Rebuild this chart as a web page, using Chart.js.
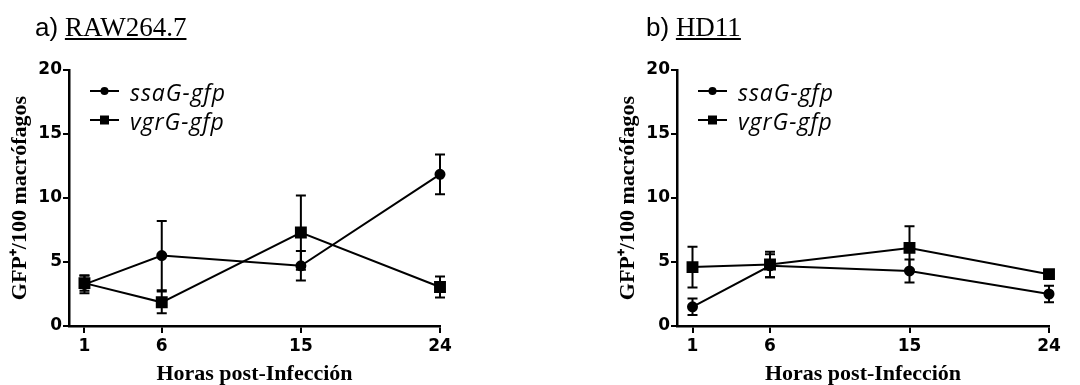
<!DOCTYPE html>
<html>
<head>
<meta charset="utf-8">
<script src="https://cdn.jsdelivr.net/npm/chart.js"></script>
<style>
  body { margin: 0; background: #fff; }
  #wrap { position: relative; width: 1080px; height: 385px; }
  canvas { position: absolute; top: 0; }
  .title { position: absolute; top: 14px; font-size: 27px; line-height: 27px; color: #000; white-space: nowrap; }
  .title .lbl { font-family: "Liberation Sans", Arial, sans-serif; font-size: 26px; }
  .title .name { font-family: "Liberation Serif", "Times New Roman", serif; text-decoration: underline; text-decoration-thickness: 1.5px; text-underline-offset: 2px; }
</style>
</head>
<body>
<div id="wrap">
  <canvas id="rawChart" width="540" height="385" style="left:0"></canvas>
  <canvas id="hdChart" width="540" height="385" style="left:540px"></canvas>
  <div class="title" style="left:35px"><span class="lbl">a)</span> <span class="name">RAW264.7</span></div>
  <div class="title" style="left:646px"><span class="lbl">b)</span> <span class="name">HD11</span></div>
</div>
<script>
// hours post-infection
const hours = [1, 6, 15, 24];
const yTicks = [0, 5, 10, 15, 20];
const seriesNames = ['ssaG-gfp', 'vgrG-gfp'];

// a) RAW264.7  (mean, error)
const rawSsaG = [3.25, 5.5, 4.7, 11.85];
const rawSsaGErr = [0.7, 2.7, 1.15, 1.55];
const rawVgrG = [3.35, 1.85, 7.3, 3.05];
const rawVgrGErr = [0.6, 0.85, 2.9, 0.82];

// b) HD11
const hdSsaG = [1.5, 4.7, 4.3, 2.5];
const hdSsaGErr = [0.65, 0.9, 0.9, 0.65];
const hdVgrG = [4.6, 4.8, 6.1, 4.05];
const hdVgrGErr = [1.6, 1.0, 1.7, 0.25];

const toPoints = (vals) => vals.map((v, i) => ({ x: hours[i], y: v }));

// error bars with caps
const errorBars = {
  id: 'errorBars',
  beforeDatasetsDraw(chart) {
    const ctx = chart.ctx;
    const yScale = chart.scales.y;
    ctx.save();
    ctx.strokeStyle = '#000';
    ctx.lineWidth = 2;
    chart.data.datasets.forEach((ds, di) => {
      const meta = chart.getDatasetMeta(di);
      meta.data.forEach((pt, i) => {
        const v = ds.data[i].y;
        const e = ds.errors[i];
        const yTop = yScale.getPixelForValue(v + e);
        const yBot = yScale.getPixelForValue(v - e);
        ctx.beginPath();
        ctx.moveTo(pt.x, yTop); ctx.lineTo(pt.x, yBot);
        ctx.moveTo(pt.x - 5, yTop); ctx.lineTo(pt.x + 5, yTop);
        ctx.moveTo(pt.x - 5, yBot); ctx.lineTo(pt.x + 5, yBot);
        ctx.stroke();
      });
    });
    ctx.restore();
  }
};

// legend drawn inside the plot area, top left
const innerLegend = {
  id: 'innerLegend',
  afterDraw(chart) {
    const ctx = chart.ctx;
    const area = chart.chartArea;
    ctx.save();
    chart.data.datasets.forEach((ds, i) => {
      const y = area.top + 21 + 29 * i;
      const x0 = area.left + 21, x1 = area.left + 50, xm = (x0 + x1) / 2;
      ctx.strokeStyle = '#000';
      ctx.fillStyle = '#000';
      ctx.lineWidth = 2;
      ctx.beginPath(); ctx.moveTo(x0, y); ctx.lineTo(x1, y); ctx.stroke();
      ctx.beginPath();
      if (ds.pointStyle === 'circle') ctx.arc(xm, y, 4, 0, Math.PI * 2);
      else ctx.rect(xm - 4.5, y - 4.5, 9, 9);
      ctx.fill();
      ctx.font = 'italic 23px "Open Sans", sans-serif';
      ctx.letterSpacing = '1px';
      ctx.textBaseline = 'alphabetic';
      ctx.fillText(ds.label, area.left + 61, y + 10);
      ctx.letterSpacing = '0px';
    });
    ctx.restore();
  }
};

const makeChart = (canvasId, ssa, ssaErr, vgr, vgrErr, padLeft, padRight) => {
  const ctx = document.getElementById(canvasId).getContext('2d');
  const tickFont = { family: '"DejaVu Sans", sans-serif', size: 17, weight: 'bold' };
  const titleFont = { family: '"Liberation Serif", "Times New Roman", serif', size: 22, weight: 'bold' };
  return new Chart(ctx, {
    type: 'line',
    data: {
      datasets: [
        {
          label: seriesNames[0], data: toPoints(ssa), errors: ssaErr,
          borderColor: '#000', backgroundColor: '#000', borderWidth: 2,
          pointStyle: 'circle', pointRadius: 4.5, tension: 0, clip: false
        },
        {
          label: seriesNames[1], data: toPoints(vgr), errors: vgrErr,
          borderColor: '#000', backgroundColor: '#000', borderWidth: 2,
          pointStyle: 'rect', pointRadius: 7, tension: 0, clip: false
        }
      ]
    },
    options: {
      responsive: false,
      animation: false,
      layout: { padding: { left: padLeft, right: padRight, top: 70, bottom: 0 } },
      plugins: { legend: { display: false }, tooltip: { enabled: false } },
      scales: {
        x: {
          type: 'linear', min: 0, max: 24,
          afterBuildTicks: (s) => { s.ticks = hours.map(v => ({ value: v })); },
          afterFit: (s) => { s.height = 59; },
          grid: { drawOnChartArea: false, drawTicks: true, tickLength: 7, color: '#000', lineWidth: 2 },
          border: { display: true, color: '#000', width: 2.5 },
          ticks: { color: '#000', font: tickFont, padding: 3, maxRotation: 0, autoSkip: false },
          title: { display: true, text: 'Horas post-Infección', color: '#000', font: titleFont, padding: { top: 0, bottom: -3 } }
        },
        y: {
          min: 0, max: 20,
          afterBuildTicks: (s) => { s.ticks = yTicks.map(v => ({ value: v })); },
          afterFit: (s) => { s.width = 69; },
          grid: { drawOnChartArea: false, drawTicks: true, tickLength: 6, color: '#000', lineWidth: 2 },
          border: { display: true, color: '#000', width: 2.5 },
          ticks: { color: '#000', font: tickFont, padding: 1 },
          title: { display: true, text: 'GFP⁺/100 macrófagos', color: '#000', font: titleFont, padding: { top: 7, bottom: 0 } }
        }
      }
    },
    plugins: [errorBars, innerLegend]
  });
};

makeChart('rawChart', rawSsaG, rawSsaGErr, rawVgrG, rawVgrGErr, 0, 100);
makeChart('hdChart', hdSsaG, hdSsaGErr, hdVgrG, hdVgrGErr, 68, 31);
</script>
</body>
</html>
